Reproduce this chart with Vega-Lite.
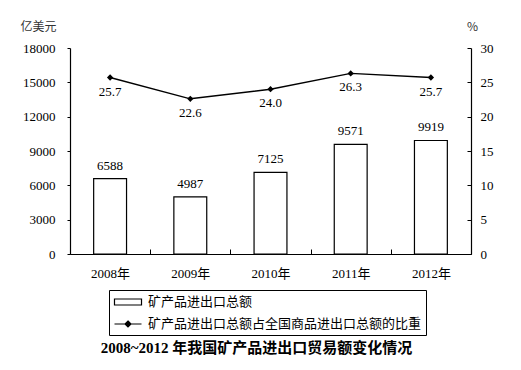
{
  "$schema": "https://vega.github.io/schema/vega-lite/v6.json",
  "autosize": "none",
  "width": 401,
  "height": 206,
  "padding": {"left": 70, "top": 48, "right": 50, "bottom": 116},
  "background": "white",
  "datasets": {
    "trade": [
      {"year": "2008年", "value": 6588, "series": "矿产品进出口总额"},
      {"year": "2009年", "value": 4987, "series": "矿产品进出口总额"},
      {"year": "2010年", "value": 7125, "series": "矿产品进出口总额"},
      {"year": "2011年", "value": 9571, "series": "矿产品进出口总额"},
      {"year": "2012年", "value": 9919, "series": "矿产品进出口总额"}
    ],
    "ratio": [
      {"year": "2008年", "pct": 25.7, "series": "矿产品进出口总额占全国商品进出口总额的比重"},
      {"year": "2009年", "pct": 22.6, "series": "矿产品进出口总额占全国商品进出口总额的比重"},
      {"year": "2010年", "pct": 24.0, "series": "矿产品进出口总额占全国商品进出口总额的比重"},
      {"year": "2011年", "pct": 26.3, "series": "矿产品进出口总额占全国商品进出口总额的比重"},
      {"year": "2012年", "pct": 25.7, "series": "矿产品进出口总额占全国商品进出口总额的比重"}
    ]
  },
  "title": {
    "text": "2008~2012 年我国矿产品进出口贸易额变化情况",
    "orient": "bottom",
    "anchor": "middle",
    "dx": -14,
    "offset": 5,
    "font": "Liberation Serif, Noto Sans CJK SC",
    "fontSize": 15,
    "fontWeight": "bold",
    "color": "black"
  },
  "config": {
    "view": {"stroke": null},
    "axis": {
      "grid": false,
      "domainColor": "black",
      "tickColor": "black",
      "labelColor": "black",
      "labelOverlap": false,
      "labelFont": "Liberation Serif, Noto Sans CJK SC",
      "labelFontSize": 13,
      "titleFont": "Noto Sans CJK SC",
      "titleFontWeight": "normal",
      "titleFontSize": 12,
      "titleColor": "#333333"
    }
  },
  "layer": [
    {
      "layer": [
        {
          "data": {"name": "trade"},
          "mark": {"type": "bar", "fill": "white", "stroke": "black", "strokeWidth": 1.2, "width": {"band": 0.41}},
          "encoding": {
            "x": {
              "field": "year", "type": "nominal", "sort": null,
              "scale": {"paddingInner": 0, "paddingOuter": 0},
              "axis": {"title": null, "labelAngle": 0, "tickBand": "extent", "tickSize": -5, "labelPadding": 18, "domainWidth": 1.2}
            },
            "y": {
              "field": "value", "type": "quantitative",
              "scale": {"domain": [0, 18000], "nice": false},
              "axis": {
                "values": [0, 3000, 6000, 9000, 12000, 15000, 18000],
                "tickCount": 10,
                "labelOverlap": false,
                "format": "d",
                "tickSize": 3,
                "labelPadding": 12,
                "domainWidth": 1.2,
                "title": "亿美元",
                "titleAngle": 0,
                "titleX": -50,
                "titleY": -22,
                "titleAlign": "left",
                "titleBaseline": "middle"
              }
            }
          }
        },
        {
          "data": {"name": "trade"},
          "mark": {"type": "text", "font": "Liberation Serif", "fontSize": 13, "baseline": "alphabetic", "dy": -9, "color": "black"},
          "encoding": {
            "x": {"field": "year", "type": "nominal", "sort": null},
            "y": {"field": "value", "type": "quantitative"},
            "text": {"field": "value", "type": "quantitative", "format": "d"}
          }
        }
      ]
    },
    {
      "layer": [
        {
          "data": {"name": "ratio"},
          "mark": {"type": "line", "color": "black", "strokeWidth": 1.4},
          "encoding": {
            "x": {"field": "year", "type": "nominal", "sort": null},
            "y": {
              "field": "pct", "type": "quantitative",
              "scale": {"domain": [0, 30], "nice": false},
              "axis": {
                "orient": "right",
                "values": [0, 5, 10, 15, 20, 25, 30],
                "tickCount": 10,
                "labelOverlap": false,
                "tickSize": -4,
                "labelPadding": 13,
                "domainWidth": 1.2,
                "title": "%",
                "titleAngle": 0,
                "titleX": 1,
                "titleY": -22,
                "titleAlign": "center",
                "titleBaseline": "middle"
              }
            }
          }
        },
        {
          "data": {"name": "ratio"},
          "mark": {"type": "point", "shape": "diamond", "filled": true, "color": "black", "size": 40, "opacity": 1},
          "encoding": {
            "x": {"field": "year", "type": "nominal", "sort": null},
            "y": {"field": "pct", "type": "quantitative"}
          }
        },
        {
          "data": {"name": "ratio"},
          "mark": {"type": "text", "font": "Liberation Serif", "fontSize": 13, "baseline": "alphabetic", "dy": 18, "color": "black"},
          "encoding": {
            "x": {"field": "year", "type": "nominal", "sort": null},
            "y": {"field": "pct", "type": "quantitative"},
            "text": {"field": "pct", "type": "quantitative", "format": ".1f"}
          }
        }
      ]
    },
    {
      "data": {"values": []},
      "mark": {"type": "point", "filled": true, "opacity": 1},
      "encoding": {
        "shape": {
          "field": "series", "type": "nominal",
          "scale": {
            "domain": ["矿产品进出口总额", "矿产品进出口总额占全国商品进出口总额的比重"],
            "range": ["M-1.93,-0.43H1.93V0.43H-1.93Z", "M-1.93,0H1.93M0,-0.43L0.43,0L0,0.43L-0.43,0Z"]
          },
          "legend": {
            "orient": "none",
            "legendX": 39,
            "legendY": 242,
            "direction": "vertical",
            "title": null,
            "strokeColor": "black",
            "fillColor": "white",
            "padding": 4,
            "symbolSize": 196,
            "symbolOffset": 7,
            "symbolStrokeWidth": 1.2,
            "labelOffset": 12,
            "rowPadding": 7,
            "labelFont": "Noto Sans CJK SC",
            "labelFontSize": 13,
            "labelColor": "black",
            "labelLimit": 400
          }
        },
        "fill": {
          "field": "series", "type": "nominal",
          "scale": {
            "domain": ["矿产品进出口总额", "矿产品进出口总额占全国商品进出口总额的比重"],
            "range": ["white", "black"]
          }
        },
        "stroke": {
          "field": "series", "type": "nominal",
          "scale": {
            "domain": ["矿产品进出口总额", "矿产品进出口总额占全国商品进出口总额的比重"],
            "range": ["black", "black"]
          }
        }
      }
    }
  ],
  "resolve": {"scale": {"y": "independent"}}
}
